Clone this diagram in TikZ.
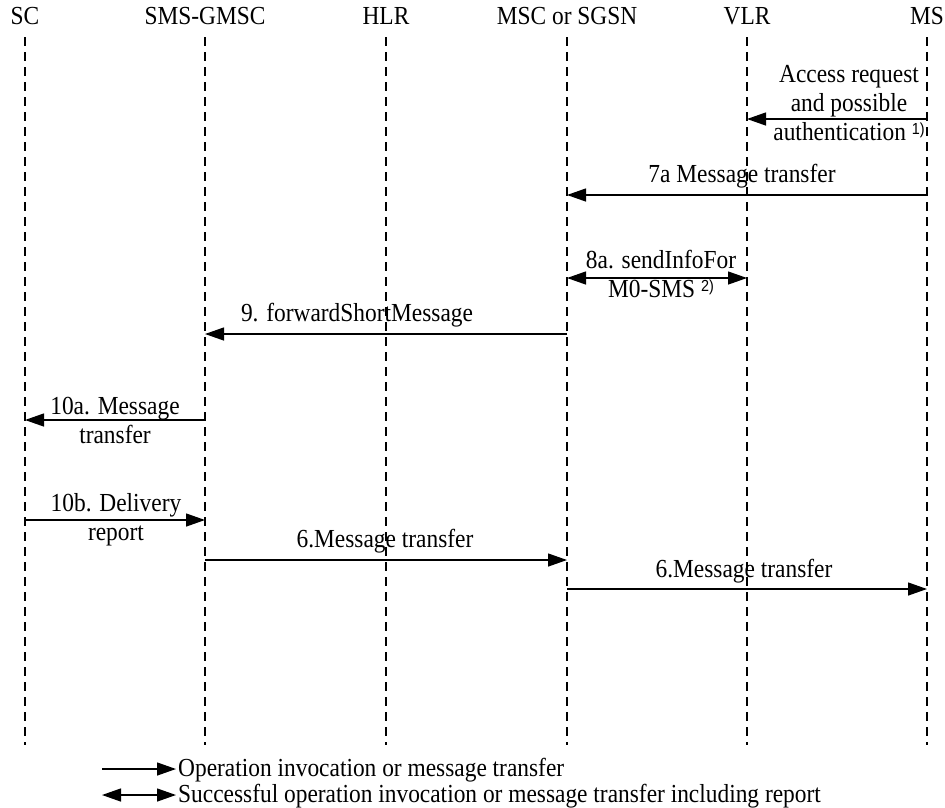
\documentclass[tikz,border=0pt]{standalone}
\usepackage{fontspec}
\setmainfont{Liberation Serif}[FakeStretch=0.9]
\setsansfont{Liberation Sans}[FakeStretch=0.9]
\usetikzlibrary{arrows.meta}
\newcommand{\fnmark}[1]{\raisebox{6pt}{\fontsize{16}{16}\selectfont\sffamily #1}}
\begin{document}
\begin{tikzpicture}[x=1pt,y=1pt,
  lifeline/.style={dash pattern=on 9pt off 6pt, line width=1.1pt},
  msg/.style={line width=1.3pt, -{Triangle[length=19pt,width=13pt]}},
  bmsg/.style={line width=1.3pt, {Triangle[length=19pt,width=13pt]}-{Triangle[length=19pt,width=13pt]}},
  lbl/.style={font=\fontsize{26}{29}\selectfont, inner sep=0pt, align=center},
  head/.style={font=\fontsize{26}{29}\selectfont, inner sep=0pt, anchor=base}]
\useasboundingbox (0,0) rectangle (945,-807);
% headers
\node[head] (SC)   at (25,-24)  {SC};
\node[head] (GMSC) at (205,-24) {SMS-GMSC};
\node[head] (HLR)  at (386,-24) {HLR};
\node[head] (MSC)  at (567,-24) {MSC or SGSN};
\node[head] (VLR)  at (747,-24) {VLR};
\node[head] (MS)   at (927,-24) {MS};
% lifelines
\coordinate (SCt) at (25,-37);   \coordinate (SCb) at (25,-745);
\coordinate (GMSCt) at (205,-37); \coordinate (GMSCb) at (205,-745);
\coordinate (HLRt) at (386,-37); \coordinate (HLRb) at (386,-745);
\coordinate (MSCt) at (567,-37); \coordinate (MSCb) at (567,-745);
\coordinate (VLRt) at (747,-37); \coordinate (VLRb) at (747,-745);
\coordinate (MSt) at (927,-37);  \coordinate (MSb) at (927,-745);
\draw[lifeline] (SCt) -- (SCb);
\draw[lifeline] (GMSCt) -- (GMSCb);
\draw[lifeline] (HLRt) -- (HLRb);
\draw[lifeline] (MSCt) -- (MSCb);
\draw[lifeline] (VLRt) -- (VLRb);
\draw[lifeline] (MSt) -- (MSb);
% row levels
\coordinate (r1) at (0,-119);
\coordinate (r2) at (0,-195);
\coordinate (r3) at (0,-278);
\coordinate (r4) at (0,-334);
\coordinate (r5) at (0,-420);
\coordinate (r6) at (0,-520);
\coordinate (r7) at (0,-560);
\coordinate (r8) at (0,-589);
% messages
\draw[msg] (MSt |- r1) -- (VLRt |- r1);
\node[lbl] (t1) at (849,-103) {Access request\\and possible\\authentication \fnmark{1)}};
\draw[msg] (MSt |- r2) -- (MSCt |- r2);
\node[lbl, anchor=base] (t2) at (742,-182) {7a Message transfer};
\draw[bmsg] (MSCt |- r3) -- (VLRt |- r3);
\node[lbl] (t3) at (661,-274) {8a. sendInfoFor\\M0-SMS \fnmark{2)}};
\draw[msg] (MSCt |- r4) -- (GMSCt |- r4);
\node[lbl, anchor=base] (t4) at (357,-321) {9. forwardShortMessage};
\draw[msg] (GMSCt |- r5) -- (SCt |- r5);
\node[lbl] (t5) at (115,-420) {10a. Message\\transfer};
\draw[msg] (SCt |- r6) -- (GMSCt |- r6);
\node[lbl] (t6) at (116,-520) {10b. Delivery\\report};
\draw[msg] (GMSCt |- r7) -- (MSCt |- r7);
\node[lbl, anchor=base] (t7) at (385,-547) {6.Message transfer};
\draw[msg] (MSCt |- r8) -- (MSt |- r8);
\node[lbl, anchor=base] (t8) at (744,-577) {6.Message transfer};
% legend
\coordinate (la1) at (102,-769);
\coordinate (lb1) at (176,-769);
\coordinate (la2) at (102,-795);
\coordinate (lb2) at (176,-795);
\draw[msg] (la1) -- (lb1);
\draw[bmsg] (la2) -- (lb2);
\node[lbl, anchor=base west] (g1) at (178,-776) {Operation invocation or message transfer};
\node[lbl, anchor=base west] (g2) at (178,-802) {Successful operation invocation or message transfer including report};
\end{tikzpicture}
\end{document}
